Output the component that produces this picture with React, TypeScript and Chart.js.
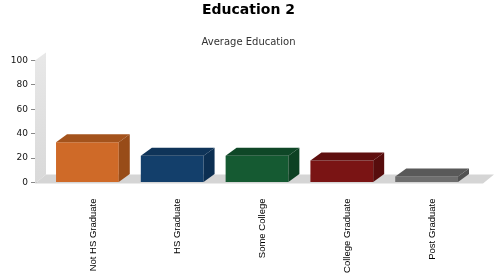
import React, { useEffect, useRef } from "react";
import { Chart, registerables } from "chart.js";

Chart.register(...registerables);

// Chart content
const categories = ["Not HS Graduate", "HS Graduate", "Some College", "College Graduate", "Post Graduate"];
const averageEducation = [33, 22, 22, 18, 5];
const yTickValues = [0, 20, 40, 60, 80, 100];

// Face colours for each bar: front, top, right side
const frontColors = ["#CF6A28", "#133F6B", "#155A32", "#7A1414", "#6E6E6E"];
const topColors = ["#A4531C", "#0F3459", "#0F4727", "#5F0F0F", "#595959"];
const sideColors = ["#984C18", "#0C2F52", "#0D4123", "#570D0D", "#525252"];

// Depth offset used for the pseudo-3D faces
const DX = 11;
const DY = -8;

const depthPlugin = {
  id: "depth3d",
  beforeDatasetsDraw(chart: any) {
    const { ctx, chartArea, scales } = chart;
    const yScale = scales.y;
    const zeroY = yScale.getPixelForValue(0);
    const topY = yScale.getPixelForValue(100);
    const wallX = chartArea.left - 10;
    const floorRight = chartArea.right + 14;
    const floorFront = zeroY + 1;
    ctx.save();
    // back wall (left side panel)
    const grad = ctx.createLinearGradient(0, topY + DY, 0, zeroY);
    grad.addColorStop(0, "#e8e8e8");
    grad.addColorStop(1, "#d9d9d9");
    ctx.fillStyle = grad;
    ctx.beginPath();
    ctx.moveTo(wallX, floorFront);
    ctx.lineTo(wallX, topY);
    ctx.lineTo(wallX + DX, topY + DY);
    ctx.lineTo(wallX + DX, zeroY + DY);
    ctx.closePath();
    ctx.fill();
    // floor
    ctx.fillStyle = "#d5d5d5";
    ctx.beginPath();
    ctx.moveTo(wallX, floorFront);
    ctx.lineTo(floorRight, floorFront);
    ctx.lineTo(floorRight + DX, zeroY + DY);
    ctx.lineTo(wallX + DX, zeroY + DY);
    ctx.closePath();
    ctx.fill();
    ctx.restore();
  },
  afterDatasetsDraw(chart: any) {
    const { ctx } = chart;
    const meta = chart.getDatasetMeta(0);
    ctx.save();
    meta.data.forEach((bar: any, i: number) => {
      const { x, y, base, width } = bar.getProps(["x", "y", "base", "width"], true);
      const l = x - width / 2;
      const r = x + width / 2;
      // top face
      ctx.fillStyle = topColors[i];
      ctx.beginPath();
      ctx.moveTo(l, y);
      ctx.lineTo(r, y);
      ctx.lineTo(r + DX, y + DY);
      ctx.lineTo(l + DX, y + DY);
      ctx.closePath();
      ctx.fill();
      // right side face
      ctx.fillStyle = sideColors[i];
      ctx.beginPath();
      ctx.moveTo(r, y);
      ctx.lineTo(r + DX, y + DY);
      ctx.lineTo(r + DX, base + DY);
      ctx.lineTo(r, base);
      ctx.closePath();
      ctx.fill();
    });
    ctx.restore();
  },
};

export default function App() {
  const canvasRef = useRef<HTMLCanvasElement | null>(null);

  useEffect(() => {
    const canvas = canvasRef.current;
    if (!canvas) return;
    const chart = new Chart(canvas, {
      type: "bar",
      data: {
        labels: categories,
        datasets: [
          {
            label: "Average Education",
            data: averageEducation,
            backgroundColor: frontColors,
            borderWidth: 0,
            barPercentage: 0.74,
            categoryPercentage: 1,
          },
        ],
      },
      options: {
        responsive: false,
        animation: false,
        events: [],
        layout: { padding: { left: 10, right: 13, top: 0, bottom: 0 } },
        plugins: {
          legend: { display: false },
          tooltip: { enabled: false },
          title: {
            display: true,
            text: "Education 2",
            color: "#000",
            font: { family: "DejaVu Sans", size: 14, weight: "bold" },
            padding: { top: 2, bottom: 17.2 },
          },
          subtitle: {
            display: true,
            text: "Average Education",
            color: "#333",
            font: { family: "DejaVu Sans", size: 10 },
            padding: { top: 0, bottom: 12.5 },
          },
        },
        scales: {
          x: {
            grid: { display: false, drawTicks: false },
            border: { display: false },
            afterFit: (scale: any) => {
              scale.height = 97.5;
            },
            ticks: {
              autoSkip: false,
              minRotation: 90,
              maxRotation: 90,
              labelOffset: 5.5,
              padding: 16,
              color: "#000",
              font: { family: "Liberation Sans", size: 9.5 },
            },
          },
          y: {
            min: 0,
            max: 100,
            afterBuildTicks: (scale: any) => {
              scale.ticks = yTickValues.map((v) => ({ value: v }));
            },
            afterFit: (scale: any) => {
              scale.width = 35;
            },
            grid: { drawOnChartArea: false, tickLength: 14, tickColor: "#888" },
            border: { display: false },
            ticks: {
              padding: 3,
              color: "#111",
              font: { family: "DejaVu Sans", size: 9 },
            },
          },
          y2: {
            type: "linear",
            position: "right",
            display: true,
            grid: { display: false, drawTicks: false },
            border: { display: false },
            ticks: { display: false },
            afterFit: (scale: any) => {
              scale.width = 18;
            },
          },
        },
      },
      plugins: [depthPlugin],
    });
    return () => chart.destroy();
  }, []);

  return (
    <div style={{ position: "fixed", left: 0, top: 0, width: 500, height: 280, background: "#fff" }}>
      <canvas ref={canvasRef} width={500} height={280} />
    </div>
  );
}
